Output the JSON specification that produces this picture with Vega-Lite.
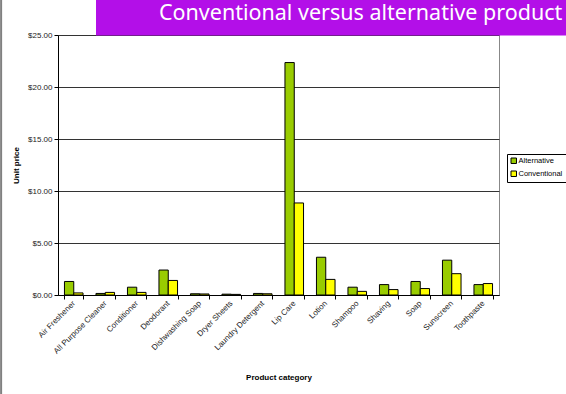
{
  "$schema": "https://vega.github.io/schema/vega-lite/v6.json",
  "width": 441,
  "height": 260,
  "autosize": "none",
  "padding": {"left": 58, "top": 35, "right": 67, "bottom": 99},
  "background": "white",
  "config": {
    "view": {"stroke": "#888888", "strokeWidth": 1},
    "axis": {
      "labelFont": "Liberation Sans",
      "labelFontSize": 8,
      "labelColor": "#222222",
      "titleFont": "Liberation Sans",
      "titleFontSize": 8,
      "titleFontWeight": "bold",
      "titleColor": "#000000",
      "domainColor": "#000000",
      "tickColor": "#000000",
      "tickSize": 4
    },
    "legend": {
      "labelFont": "Liberation Sans",
      "labelFontSize": 7.5,
      "labelColor": "#000000"
    }
  },
  "layer": [
    {
      "data": {
        "values": [
          {"category": "Air Freshener", "type": "Alternative", "price": 1.3},
          {"category": "Air Freshener", "type": "Conventional", "price": 0.2},
          {"category": "All Purpose Cleaner", "type": "Alternative", "price": 0.15},
          {"category": "All Purpose Cleaner", "type": "Conventional", "price": 0.25},
          {"category": "Conditioner", "type": "Alternative", "price": 0.75},
          {"category": "Conditioner", "type": "Conventional", "price": 0.25},
          {"category": "Deodorant", "type": "Alternative", "price": 2.4},
          {"category": "Deodorant", "type": "Conventional", "price": 1.4},
          {"category": "Dishwashing Soap", "type": "Alternative", "price": 0.12},
          {"category": "Dishwashing Soap", "type": "Conventional", "price": 0.1},
          {"category": "Dryer Sheets", "type": "Alternative", "price": 0.08},
          {"category": "Dryer Sheets", "type": "Conventional", "price": 0.06},
          {"category": "Laundry Detergent", "type": "Alternative", "price": 0.15},
          {"category": "Laundry Detergent", "type": "Conventional", "price": 0.12},
          {"category": "Lip Care", "type": "Alternative", "price": 22.35},
          {"category": "Lip Care", "type": "Conventional", "price": 8.85},
          {"category": "Lotion", "type": "Alternative", "price": 3.63},
          {"category": "Lotion", "type": "Conventional", "price": 1.5},
          {"category": "Shampoo", "type": "Alternative", "price": 0.75},
          {"category": "Shampoo", "type": "Conventional", "price": 0.35},
          {"category": "Shaving", "type": "Alternative", "price": 1.0},
          {"category": "Shaving", "type": "Conventional", "price": 0.52},
          {"category": "Soap", "type": "Alternative", "price": 1.3},
          {"category": "Soap", "type": "Conventional", "price": 0.62},
          {"category": "Sunscreen", "type": "Alternative", "price": 3.35},
          {"category": "Sunscreen", "type": "Conventional", "price": 2.05},
          {"category": "Toothpaste", "type": "Alternative", "price": 1.0},
          {"category": "Toothpaste", "type": "Conventional", "price": 1.1}
        ]
      },
      "mark": {"type": "bar", "stroke": "#000000", "strokeWidth": 1},
      "encoding": {
        "x": {
          "field": "category",
          "type": "nominal",
          "sort": null,
          "scale": {"paddingInner": 0.41, "paddingOuter": 0.205},
          "axis": {
            "title": "Product category",
            "titleX": 220.5,
            "titleY": 82,
            "titleAlign": "center",
            "titleBaseline": "middle",
            "labelAngle": -45,
            "labelAlign": "right",
            "labelBaseline": "middle",
            "labelPadding": 3,
            "tickBand": "extent",
            "grid": false
          }
        },
        "xOffset": {"field": "type", "type": "nominal"},
        "y": {
          "field": "price",
          "type": "quantitative",
          "scale": {"domain": [0, 25], "nice": false},
          "axis": {
            "title": "Unit price",
            "titleX": -42,
            "titleY": 130,
            "titleAlign": "center",
            "titleBaseline": "middle",
            "format": "$.2f",
            "values": [0, 5, 10, 15, 20, 25],
            "labelPadding": 2,
            "grid": true,
            "gridColor": "#333333",
            "gridWidth": 1
          }
        },
        "color": {
          "field": "type",
          "type": "nominal",
          "scale": {"domain": ["Alternative", "Conventional"], "range": ["#99cc00", "#ffff00"]},
          "legend": {
            "title": null,
            "orient": "none",
            "legendX": 449,
            "legendY": 119,
            "padding": 3,
            "strokeColor": "#000000",
            "fillColor": "#ffffff",
            "symbolType": "square",
            "symbolSize": 30,
            "symbolStrokeColor": "#000000",
            "symbolStrokeWidth": 1,
            "labelOffset": 1,
            "rowPadding": 3
          }
        }
      }
    },
    {
      "data": {"values": [{}]},
      "mark": {"type": "rect", "fill": "#b30fe8"},
      "encoding": {
        "x": {"datum": 0.0862, "type": "quantitative", "scale": {"domain": [0, 1], "nice": false, "zero": false}, "axis": null},
        "x2": {"datum": 1.16},
        "y": {"datum": 24.95, "type": "quantitative"},
        "y2": {"datum": 28.6}
      }
    },
    {
      "data": {"values": [{}]},
      "mark": {"type": "text", "text": "Conventional versus alternative product", "font": "Noto Sans", "fontSize": 21.5, "fontWeight": 400, "color": "#ffffff", "align": "left", "baseline": "alphabetic"},
      "encoding": {
        "x": {"datum": 0.229, "type": "quantitative", "scale": {"domain": [0, 1], "nice": false, "zero": false}, "axis": null},
        "y": {"datum": 26.44, "type": "quantitative"}
      }
    },
    {
      "data": {"values": [{}]},
      "mark": {"type": "rule", "color": "#808080", "strokeWidth": 2},
      "encoding": {
        "x": {"datum": -0.129, "type": "quantitative", "scale": {"domain": [0, 1], "nice": false, "zero": false}, "axis": null},
        "y": {"datum": 28.6, "type": "quantitative"},
        "y2": {"datum": -9.7}
      }
    }
  ],
  "resolve": {"scale": {"x": "independent"}, "axis": {"x": "independent"}}
}
